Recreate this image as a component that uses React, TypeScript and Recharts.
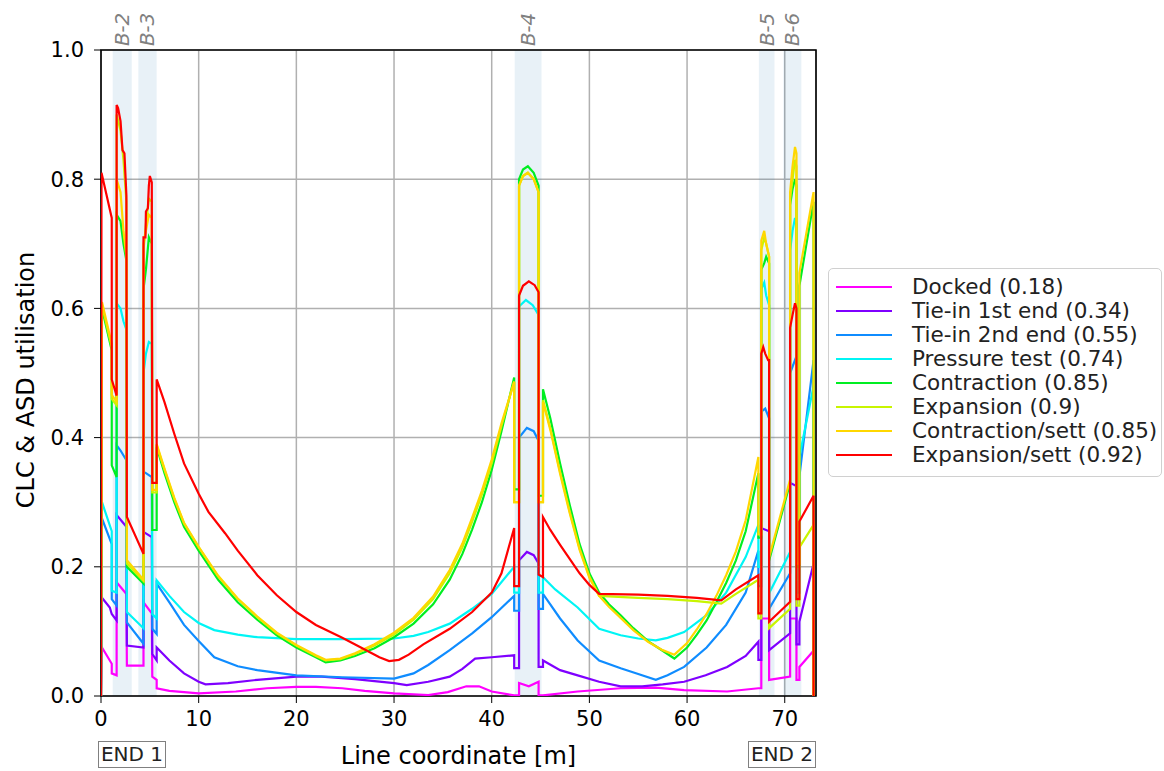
import { LineChart, Line, XAxis, YAxis, CartesianGrid, ReferenceArea } from "recharts"

// [line coordinate (m), utilisation]
const docked: [number, number][] = [
  [0, 0], [0.1, 0.075], [1.1, 0.05], [1.1, 0.035], [1.6, 0.032], [1.6, 0.176], [2.6, 0.158], [2.65, 0.047],
  [4.35, 0.047], [4.35, 0.145], [5.2, 0.128], [5.25, 0.03], [5.7, 0.025], [5.7, 0.012], [7, 0.008], [10, 0.004],
  [13.8, 0.007], [17, 0.012], [20, 0.014], [22, 0.014], [24.7, 0.012], [27, 0.008], [30, 0.004], [33.5, 0.0015],
  [35.5, 0.006], [37.4, 0.015], [38.7, 0.015], [40, 0.007], [42.3, 0.001], [42.8, 0.001], [42.8, 0.02],
  [43.8, 0.015], [44.8, 0.022], [44.8, 0.001], [45.25, 0.001], [48.8, 0.007], [53.2, 0.012], [56.8, 0.013],
  [59.7, 0.009], [64.1, 0.007], [67.3, 0.012], [67.6, 0.012], [67.6, 0.12], [68.4, 0.12], [68.4, 0.025],
  [70.55, 0.03], [70.55, 0.12], [71.2, 0.12], [71.2, 0.025], [71.5, 0.025], [71.5, 0.045], [72.95, 0.07], [72.95, 0],
]

const tieIn1: [number, number][] = [
  [0, 0], [0.1, 0.152], [0.9, 0.137], [1.1, 0.127], [1.6, 0.117], [1.6, 0.28], [2.6, 0.262], [2.65, 0.078],
  [4.35, 0.075], [4.35, 0.254], [5.2, 0.246], [5.25, 0.065], [5.7, 0.055], [5.7, 0.075], [7, 0.055], [8.5, 0.035],
  [10, 0.022], [10.7, 0.018], [13, 0.02], [16, 0.025], [20, 0.03], [22.6, 0.03], [26, 0.026], [30, 0.02],
  [31.3, 0.017], [33.5, 0.022], [35.7, 0.03], [37, 0.042], [38.3, 0.058], [40, 0.06], [42.3, 0.063], [42.3, 0.043],
  [42.8, 0.043], [42.8, 0.21], [43.6, 0.223], [44.3, 0.218], [44.8, 0.205], [44.8, 0.045], [45.25, 0.045],
  [45.25, 0.055], [47, 0.04], [48.8, 0.032], [51, 0.022], [53.2, 0.015], [55.4, 0.015], [57.5, 0.018], [59.7, 0.022],
  [61.9, 0.032], [64.1, 0.045], [66, 0.062], [67.3, 0.084], [67.3, 0.056], [67.6, 0.056], [67.6, 0.26], [68.4, 0.255],
  [68.4, 0.071], [70.55, 0.097], [70.55, 0.33], [71.2, 0.325], [71.2, 0.08], [71.5, 0.08], [71.5, 0.115],
  [72.95, 0.205], [72.95, 0],
]

const tieIn2: [number, number][] = [
  [0, 0], [0.1, 0.275], [1.1, 0.235], [1.1, 0.15], [1.6, 0.14], [1.6, 0.388], [2.0, 0.38], [2.6, 0.365], [2.65, 0.114],
  [4.35, 0.081], [4.35, 0.347], [4.6, 0.345], [5.2, 0.339], [5.25, 0.104], [5.7, 0.096], [5.7, 0.174], [7, 0.145],
  [8.5, 0.11], [10, 0.085], [11.6, 0.06], [14, 0.046], [16, 0.04], [20, 0.032], [24.7, 0.029], [30, 0.027],
  [32, 0.035], [33.5, 0.048], [35.7, 0.071], [38, 0.097], [40, 0.122], [42.3, 0.155], [42.3, 0.132], [42.8, 0.132],
  [42.8, 0.4], [43.6, 0.415], [44.3, 0.41], [44.8, 0.395], [44.8, 0.135], [45.25, 0.135], [45.25, 0.158], [47, 0.12],
  [48.8, 0.086], [51, 0.055], [53.2, 0.043], [55, 0.034], [56.8, 0.025], [58, 0.032], [59.7, 0.045], [62, 0.075],
  [64, 0.11], [66, 0.16], [67.3, 0.225], [67.3, 0.17], [67.6, 0.17], [67.6, 0.44], [68.0, 0.445], [68.4, 0.43],
  [68.4, 0.135], [70.55, 0.19], [70.55, 0.5], [71.05, 0.52], [71.2, 0.515], [71.2, 0.16], [71.5, 0.16], [71.5, 0.34],
  [72.95, 0.52], [72.95, 0],
]

const pressure: [number, number][] = [
  [0, 0], [0.1, 0.3], [1.1, 0.255], [1.1, 0.163], [1.6, 0.16], [1.6, 0.608], [2.0, 0.6], [2.3, 0.58], [2.6, 0.567],
  [2.65, 0.13], [4.35, 0.105], [4.35, 0.5], [4.6, 0.53], [4.9, 0.548], [5.2, 0.545], [5.25, 0.127], [5.7, 0.12],
  [5.7, 0.179], [7, 0.155], [8.5, 0.13], [10, 0.113], [11.6, 0.102], [14, 0.095], [16, 0.091], [20, 0.088],
  [24.7, 0.088], [30, 0.089], [32, 0.093], [33.5, 0.099], [35.7, 0.112], [38, 0.135], [40, 0.158], [42.3, 0.2],
  [42.3, 0.16], [42.8, 0.16], [42.8, 0.603], [43.5, 0.613], [44.2, 0.605], [44.8, 0.59], [44.8, 0.16], [45.25, 0.16],
  [45.25, 0.184], [46.5, 0.165], [48.8, 0.137], [51, 0.104], [53.2, 0.094], [55, 0.089], [56.8, 0.086], [58, 0.09],
  [59.7, 0.099], [62, 0.125], [64, 0.16], [66, 0.215], [67.3, 0.265], [67.3, 0.2], [67.6, 0.2], [67.6, 0.63],
  [67.9, 0.64], [68.1, 0.62], [68.4, 0.605], [68.4, 0.159], [70.55, 0.223], [70.55, 0.69], [70.8, 0.72],
  [71.05, 0.74], [71.2, 0.73], [71.2, 0.18], [71.5, 0.18], [71.5, 0.37], [72.95, 0.48], [72.95, 0],
]

const contraction: [number, number][] = [
  [0, 0], [0.1, 0.6], [1.1, 0.535], [1.1, 0.357], [1.6, 0.339], [1.6, 0.745], [2.0, 0.735], [2.3, 0.7], [2.6, 0.674],
  [2.65, 0.2], [4.35, 0.174], [4.35, 0.63], [4.6, 0.66], [4.9, 0.71], [5.2, 0.7], [5.25, 0.257], [5.7, 0.257],
  [5.7, 0.385], [6.5, 0.345], [7.5, 0.3], [8.5, 0.262], [10, 0.225], [12, 0.18], [14, 0.145], [16, 0.118],
  [18, 0.094], [20, 0.075], [22, 0.06], [23, 0.052], [24.5, 0.055], [26, 0.062], [28, 0.074], [30, 0.091],
  [32, 0.112], [34, 0.142], [35.7, 0.18], [37, 0.22], [38, 0.258], [39, 0.3], [40, 0.35], [41, 0.41], [42.3, 0.493],
  [42.3, 0.32], [42.8, 0.32], [42.8, 0.8], [43.2, 0.815], [43.7, 0.82], [44.3, 0.81], [44.8, 0.79], [44.8, 0.31],
  [45.25, 0.31], [45.25, 0.475], [46, 0.43], [47, 0.36], [48, 0.295], [49, 0.235], [50, 0.19], [51, 0.16],
  [52, 0.142], [53.2, 0.125], [54.5, 0.105], [56, 0.085], [57.5, 0.07], [58.7, 0.058], [60, 0.075], [61, 0.095],
  [62, 0.117], [63, 0.145], [64, 0.175], [65, 0.21], [66, 0.255], [67.3, 0.345], [67.3, 0.245], [67.6, 0.245],
  [67.6, 0.66], [67.9, 0.67], [68.1, 0.68], [68.4, 0.67], [68.4, 0.21], [70.55, 0.33], [70.55, 0.76], [70.8, 0.785],
  [71.05, 0.8], [71.2, 0.79], [71.2, 0.2], [71.5, 0.2], [71.5, 0.635], [72.95, 0.765], [72.95, 0],
]

const expansion: [number, number][] = [
  [0, 0], [0.1, 0.605], [1.1, 0.54], [1.1, 0.46], [1.6, 0.45], [1.6, 0.9], [2.0, 0.875], [2.3, 0.83], [2.6, 0.765],
  [2.65, 0.205], [4.35, 0.178], [4.35, 0.69], [4.6, 0.73], [4.9, 0.77], [5.2, 0.765], [5.25, 0.315], [5.7, 0.315],
  [5.7, 0.388], [6.5, 0.35], [7.5, 0.305], [8.5, 0.267], [10, 0.23], [12, 0.185], [14, 0.15], [16, 0.122],
  [18, 0.097], [20, 0.078], [22, 0.062], [23, 0.055], [24.5, 0.057], [26, 0.065], [28, 0.078], [30, 0.095],
  [32, 0.118], [34, 0.15], [35.7, 0.19], [37, 0.23], [38, 0.27], [39, 0.312], [40, 0.36], [41, 0.418], [42.3, 0.487],
  [42.3, 0.3], [42.8, 0.3], [42.8, 0.79], [43.2, 0.805], [43.7, 0.81], [44.3, 0.8], [44.8, 0.78], [44.8, 0.3],
  [45.25, 0.3], [45.25, 0.458], [46, 0.415], [47, 0.347], [48, 0.285], [49, 0.228], [50, 0.185], [51, 0.155],
  [55, 0.152], [58, 0.15], [61, 0.147], [63.5, 0.143], [65, 0.158], [67.3, 0.18], [67.3, 0.12], [67.6, 0.12],
  [67.6, 0.69], [67.9, 0.71], [68.1, 0.7], [68.4, 0.68], [68.4, 0.105], [70.55, 0.135], [70.55, 0.77], [70.8, 0.8],
  [71.05, 0.83], [71.2, 0.82], [71.2, 0.14], [71.5, 0.14], [71.5, 0.23], [72.95, 0.265], [72.95, 0],
]

const contractionSett: [number, number][] = [
  [0, 0], [0.1, 0.61], [1.1, 0.545], [1.1, 0.466], [1.6, 0.455], [1.6, 0.8], [2.0, 0.78], [2.3, 0.72], [2.6, 0.68],
  [2.65, 0.21], [4.35, 0.18], [4.35, 0.7], [4.6, 0.72], [4.9, 0.745], [5.2, 0.74], [5.25, 0.319], [5.7, 0.319],
  [5.7, 0.39], [6.5, 0.352], [7.5, 0.307], [8.5, 0.268], [10, 0.231], [12, 0.186], [14, 0.151], [16, 0.123],
  [18, 0.098], [20, 0.079], [22, 0.063], [23, 0.056], [24.5, 0.058], [26, 0.066], [28, 0.08], [30, 0.098],
  [32, 0.121], [34, 0.154], [35.7, 0.195], [37, 0.236], [38, 0.276], [39, 0.318], [40, 0.366], [41, 0.422],
  [42.3, 0.486], [42.3, 0.3], [42.8, 0.3], [42.8, 0.79], [43.2, 0.805], [43.7, 0.81], [44.3, 0.8], [44.8, 0.78],
  [44.8, 0.3], [45.25, 0.3], [45.25, 0.455], [46, 0.412], [47, 0.344], [48, 0.282], [49, 0.226], [50, 0.183],
  [51, 0.155], [52, 0.138], [53.2, 0.121], [54.5, 0.102], [56, 0.084], [57.5, 0.071], [58.7, 0.064], [60, 0.082],
  [61, 0.103], [62, 0.127], [63, 0.155], [64, 0.187], [65, 0.224], [66, 0.272], [67.3, 0.37], [67.3, 0.25],
  [67.6, 0.25], [67.6, 0.705], [67.9, 0.72], [68.1, 0.7], [68.4, 0.68], [68.4, 0.215], [70.55, 0.335], [70.55, 0.78],
  [70.8, 0.82], [71.05, 0.85], [71.2, 0.84], [71.2, 0.205], [71.5, 0.205], [71.5, 0.655], [72.95, 0.78], [72.95, 0],
]

const expansionSett: [number, number][] = [
  [0, 0], [0.05, 0.81], [1.1, 0.74], [1.1, 0.49], [1.6, 0.465], [1.6, 0.915], [1.75, 0.91], [2.0, 0.89], [2.2, 0.845],
  [2.4, 0.84], [2.6, 0.775], [2.65, 0.277], [4.35, 0.22], [4.35, 0.71], [4.55, 0.71], [4.6, 0.75], [4.8, 0.755],
  [4.9, 0.79], [5.0, 0.805], [5.2, 0.795], [5.25, 0.33], [5.7, 0.33], [5.7, 0.49], [6.5, 0.455], [7.5, 0.406],
  [8.5, 0.36], [10, 0.313], [11, 0.285], [12.7, 0.252], [14, 0.225], [16, 0.187], [18, 0.156], [20, 0.13],
  [22, 0.11], [24.7, 0.09], [27, 0.072], [28.5, 0.06], [29.5, 0.054], [30.5, 0.056], [31.5, 0.064], [33, 0.08],
  [35.7, 0.104], [38, 0.13], [40, 0.16], [41, 0.19], [42.3, 0.26], [42.3, 0.17], [42.8, 0.17], [42.8, 0.62],
  [43.2, 0.635], [43.8, 0.642], [44.4, 0.636], [44.8, 0.625], [44.8, 0.188], [45.25, 0.184], [45.25, 0.277],
  [46, 0.257], [47, 0.234], [48, 0.212], [49, 0.19], [50, 0.172], [51, 0.158], [55, 0.157], [58, 0.155],
  [61, 0.152], [63.5, 0.148], [65, 0.165], [67.3, 0.187], [67.3, 0.128], [67.6, 0.128], [67.6, 0.53], [67.8, 0.54],
  [68.0, 0.53], [68.3, 0.52], [68.4, 0.52], [68.4, 0.115], [70.55, 0.146], [70.55, 0.57], [70.8, 0.59],
  [71.05, 0.608], [71.2, 0.6], [71.2, 0.15], [71.5, 0.15], [71.5, 0.27], [72.95, 0.31], [72.95, 0],
]

const seriesNames = [
  "Docked (0.18)",
  "Tie-in 1st end (0.34)",
  "Tie-in 2nd end (0.55)",
  "Pressure test (0.74)",
  "Contraction (0.85)",
  "Expansion (0.9)",
  "Contraction/sett (0.85)",
  "Expansion/sett (0.92)",
]
const seriesData = [docked, tieIn1, tieIn2, pressure, contraction, expansion, contractionSett, expansionSett]
const seriesColors = ["#ff00ff", "#7f00ff", "#0f8cff", "#00f5f5", "#00ee22", "#c8f500", "#ffd700", "#ff0000"]

const bandNames = ["B-2", "B-3", "B-4", "B-5", "B-6"]
const bandStart = [1.2, 3.82, 42.35, 67.35, 69.85]
const bandEnd = [3.15, 5.7, 45.1, 68.95, 71.7]

const xTicks = [0, 10, 20, 30, 40, 50, 60, 70]
const yTicks = [0, 0.2, 0.4, 0.6, 0.8, 1.0]
const xMax = 73.2

const FONT = "'DejaVu Sans', sans-serif"

const bandLabel = (name: string) => (props: any) => {
  const vb = props.viewBox
  const cx = vb.x + vb.width / 2
  const y0 = vb.y - 4
  return (
    <text
      x={cx}
      y={y0}
      transform={`rotate(-90 ${cx} ${y0})`}
      textAnchor="start"
      dominantBaseline="central"
      fill="#808080"
      fontStyle="italic"
      fontSize={20}
      fontFamily={FONT}
    >
      {name}
    </text>
  )
}

export default function App() {
  return (
    <div style={{ position: "absolute", left: 0, top: 0, width: 1164, height: 771, background: "#fff", fontFamily: FONT }}>
      <LineChart width={1164} height={771} margin={{ top: 50, right: 348, bottom: 45, left: 41 }}>
        <CartesianGrid stroke="#b0b0b0" strokeWidth={1.5} />
        <XAxis
          type="number"
          dataKey="x"
          domain={[0, xMax]}
          ticks={xTicks}
          allowDataOverflow
          height={30}
          axisLine={false}
          tickSize={7}
          tickMargin={8}
          stroke="#000"
          tick={{ fill: "#000", fontSize: 21, fontFamily: FONT }}
        />
        <YAxis
          type="number"
          domain={[0, 1]}
          ticks={yTicks}
          allowDataOverflow
          width={60}
          axisLine={false}
          tickSize={7}
          tickMargin={10}
          stroke="#000"
          tickFormatter={(v: number) => v.toFixed(1)}
          tick={{ fill: "#000", fontSize: 21, fontFamily: FONT }}
        />
        {bandNames.map((name, i) => (
          <ReferenceArea
            key={name}
            x1={bandStart[i]}
            x2={bandEnd[i]}
            y1={0}
            y2={1}
            fill="#1f77b4"
            fillOpacity={0.1}
            stroke="none"
            label={bandLabel(name)}
          />
        ))}
        {seriesData.map((pts, i) => (
          <Line
            key={seriesNames[i]}
            data={pts.map(([x, y]) => ({ x, y }))}
            dataKey="y"
            type="linear"
            stroke={seriesColors[i]}
            strokeWidth={2.2}
            dot={false}
            activeDot={false}
            isAnimationActive={false}
          />
        ))}
        <ReferenceArea x1={0} x2={xMax} y1={0} y2={1} fill="none" stroke="#000" strokeWidth={1.6} />
      </LineChart>

      <svg style={{ position: "absolute", left: 0, top: 0 }} width={1164} height={771} pointerEvents="none">
        <text
          x={26}
          y={380}
          transform="rotate(-90 26 380)"
          textAnchor="middle"
          dominantBaseline="central"
          fontSize={24}
          fontFamily={FONT}
          fill="#000"
        >
          CLC &amp; ASD utilisation
        </text>
        <text x={458.5} y={764} textAnchor="middle" fontSize={24} fontFamily={FONT} fill="#000">
          Line coordinate [m]
        </text>
      </svg>

      {["END 1", "END 2"].map((t, i) => (
        <div
          key={t}
          style={{
            position: "absolute",
            left: i === 0 ? 98 : 748,
            top: 741,
            width: 66,
            height: 25,
            border: "1.5px solid #808080",
            fontSize: 20,
            lineHeight: "25px",
            textAlign: "center",
            color: "#222",
          }}
        >
          {t}
        </div>
      ))}

      <div
        style={{
          position: "absolute",
          left: 828,
          top: 268,
          width: 332,
          height: 207,
          border: "1.5px solid #d0d0d0",
          borderRadius: 5,
          background: "#fff",
        }}
      >
        {seriesNames.map((name, i) => (
          <div key={name} style={{ position: "absolute", left: 0, top: 6 + i * 24, height: 24, width: 330 }}>
            <svg style={{ position: "absolute", left: 7, top: 0 }} width={56} height={24}>
              <line x1={0} y1={12} x2={56} y2={12} stroke={seriesColors[i]} strokeWidth={2.2} />
            </svg>
            <span
              style={{
                position: "absolute",
                left: 83,
                top: 0,
                fontSize: 21.5,
                lineHeight: "24px",
                color: "#222",
                whiteSpace: "nowrap",
              }}
            >
              {name}
            </span>
          </div>
        ))}
      </div>
    </div>
  )
}
